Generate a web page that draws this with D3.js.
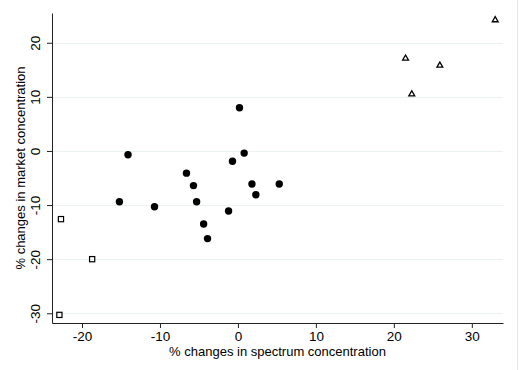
<!DOCTYPE html>
<html lang="en">
<head>
<meta charset="UTF-8">
<title>Spectrum vs market concentration</title>
<style>
  html, body { margin: 0; padding: 0; background: #fff; }
  body { font-family: Arial, "Liberation Sans", sans-serif; }
  svg text { fill: #000; }
</style>
</head>
<body>
<div id="chart"></div>
<script src="https://d3js.org/d3.v7.min.js"></script>
<script>
// groups: filled circles, hollow squares, hollow triangles
const circleX = [-14.1, -6.6, -5.7, -15.2, -10.7, -5.3, -4.4, -3.9, 0.2, 0.8, -0.7, 1.8, 5.3, 2.3, -1.2];
const circleY = [-0.7, -4.1, -6.4, -9.4, -10.3, -9.4, -13.5, -16.2, 8.0, -0.4, -1.9, -6.1, -6.1, -8.1, -11.1];
const squareX = [-22.7, -18.7, -22.9];
const squareY = [-12.6, -20.0, -30.3];
const triX = [33.0, 21.5, 25.9, 22.3];
const triY = [24.2, 17.1, 15.8, 10.5];
const xTicks = [-20, -10, 0, 10, 20, 30];
const yTicks = [-30, -20, -10, 0, 10, 20];

const W = 521, H = 370;
const margin = {top: 13, right: 18, bottom: 47, left: 52};
const width = W - margin.left - margin.right;
const height = H - margin.top - margin.bottom;

const svg = d3.select("#chart").append("svg")
  .attr("width", W).attr("height", H);

// faint frame line on the right edge
svg.append("line")
  .attr("x1", 517.5).attr("x2", 517.5).attr("y1", 0).attr("y2", H)
  .attr("stroke", "#e6e6e6").attr("stroke-width", 1);

const g = svg.append("g").attr("transform", `translate(${margin.left},${margin.top})`);

const x = d3.scaleLinear().domain([-23.85, 34]).range([0, width]);
const y = d3.scaleLinear().domain([-31.8, 25.5]).range([height, 0]);

// gridlines
g.append("g")
  .selectAll("line")
  .data(yTicks).enter()
  .append("line")
  .attr("x1", 0).attr("x2", width)
  .attr("y1", d => Math.round(y(d)) + 0.5).attr("y2", d => Math.round(y(d)) + 0.5)
  .attr("stroke", "#e9f1f2").attr("stroke-width", 1.2);

// plain hyphen minus like the original
const fmt = d => String(d);

// x axis
const xAxis = g.append("g")
  .attr("transform", `translate(0,${height})`)
  .call(d3.axisBottom(x).tickValues(xTicks).tickFormat(fmt).tickSize(5).tickPadding(3).tickSizeOuter(0));
xAxis.selectAll("text").style("font-size", "13.5px").style("font-family", "Arial, 'Liberation Sans', sans-serif");
xAxis.selectAll("line, path").attr("stroke", "#222");

// y axis, rotated tick labels
const yAxis = g.append("g")
  .call(d3.axisLeft(y).tickValues(yTicks).tickFormat(fmt).tickSize(5).tickSizeOuter(0));
yAxis.selectAll("line, path").attr("stroke", "#222");
yAxis.selectAll("text")
  .style("font-size", "13.5px")
  .style("font-family", "Arial, 'Liberation Sans', sans-serif")
  .attr("x", null).attr("dy", null)
  .attr("text-anchor", "middle")
  .attr("transform", "translate(-12,0) rotate(-90)");

// axis titles
svg.append("text")
  .attr("x", margin.left + width / 2).attr("y", 356)
  .attr("text-anchor", "middle")
  .style("font-size", "13px")
  .text("% changes in spectrum concentration");

svg.append("text")
  .attr("transform", `translate(25,${margin.top + height / 2}) rotate(-90)`)
  .attr("text-anchor", "middle")
  .style("font-size", "13px")
  .text("% changes in market concentration");

// markers
g.selectAll(".dot")
  .data(d3.zip(circleX, circleY)).enter()
  .append("circle")
  .attr("class", "dot")
  .attr("cx", d => x(d[0])).attr("cy", d => y(d[1]))
  .attr("r", 3.7)
  .attr("fill", "#000");

g.selectAll(".sq")
  .data(d3.zip(squareX, squareY)).enter()
  .append("rect")
  .attr("class", "sq")
  .attr("x", d => x(d[0]) - 2.6).attr("y", d => y(d[1]) - 2.6)
  .attr("width", 5.2).attr("height", 5.2)
  .attr("fill", "none").attr("stroke", "#000").attr("stroke-width", 1.2);

const tri = d3.symbol().type(d3.symbolTriangle).size(15);
g.selectAll(".tri")
  .data(d3.zip(triX, triY)).enter()
  .append("path")
  .attr("class", "tri")
  .attr("d", tri)
  .attr("transform", d => `translate(${x(d[0])},${y(d[1])})`)
  .attr("fill", "none").attr("stroke", "#000").attr("stroke-width", 1.3);
</script>
</body>
</html>
